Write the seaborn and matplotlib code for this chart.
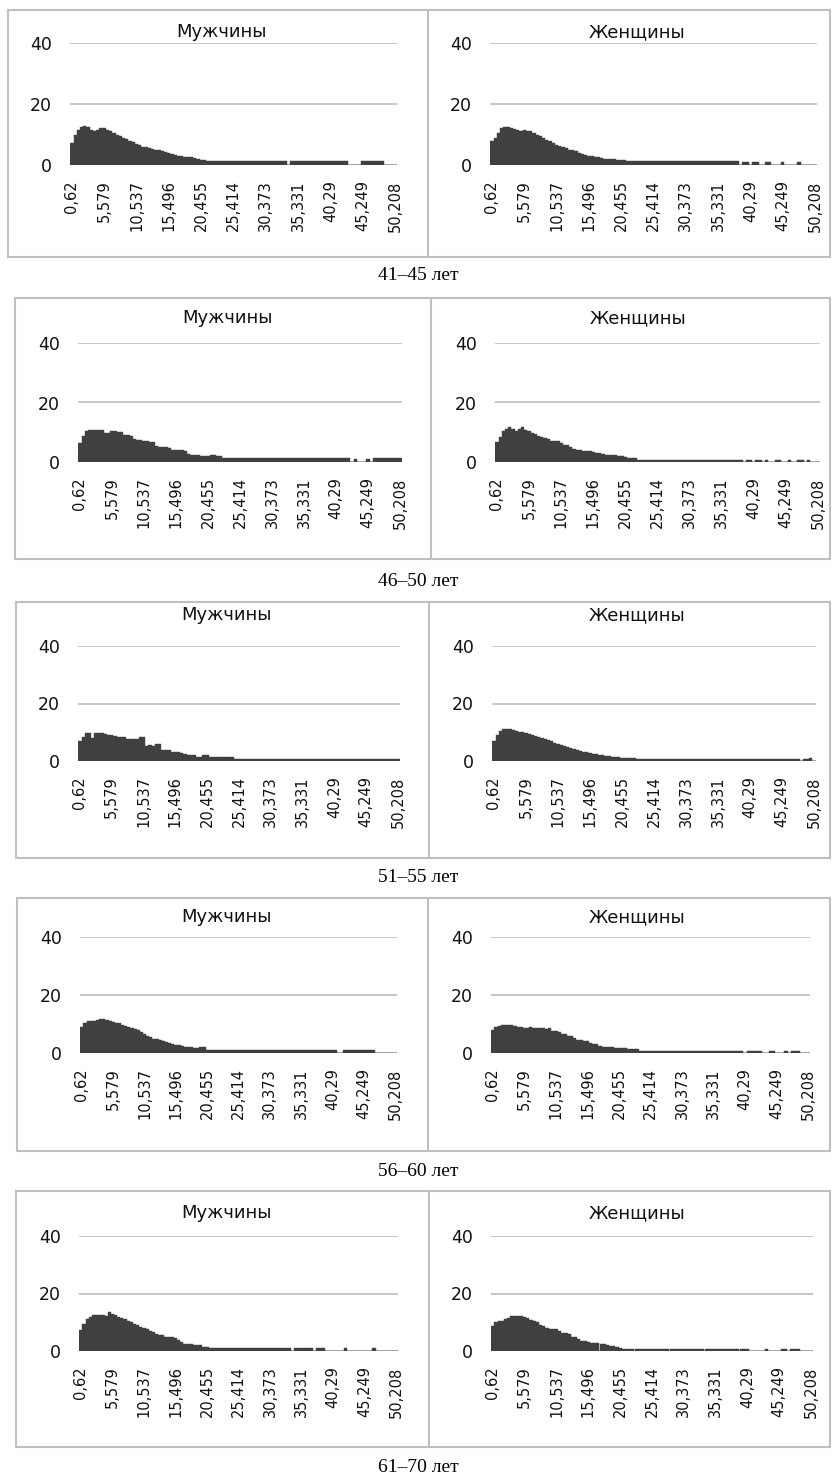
import numpy as np
import matplotlib
matplotlib.use("Agg")
import matplotlib.pyplot as plt
import seaborn as sns
from matplotlib.patches import Rectangle
from matplotlib.lines import Line2D

# ---- data (bar heights per bin, 101 bins) ----
tick_labels = ["0,62", "5,579", "10,537", "15,496", "20,455", "25,414",
               "30,373", "35,331", "40,29", "45,249", "50,208"]
age_groups = ["41–45 лет", "46–50 лет", "51–55 лет", "56–60 лет", "61–70 лет"]
sexes = ["Мужчины", "Женщины"]

m_41_45 = [7.2, 10.0, 11.5, 12.5, 12.8, 12.5, 11.5, 11.3, 11.5, 12.0,
           12.0, 11.5, 11.0, 10.5, 10.0, 9.5, 9.0, 8.5, 8.0, 7.5,
           6.8, 6.4, 6.0, 5.8, 5.5, 5.3, 5.0, 4.8, 4.5, 4.2,
           3.8, 3.5, 3.3, 3.0, 2.8, 2.5, 2.5, 2.5, 2.3, 2.0,
           1.8, 1.8, 1.4, 1.4, 1.4, 1.4, 1.4, 1.4, 1.4, 1.4,
           1.4, 1.4, 1.4, 1.4, 1.4, 1.4, 1.4, 1.4, 1.4, 1.4,
           1.4, 1.4, 1.4, 1.4, 1.4, 1.4, 1.4, 0.0, 1.4, 1.4,
           1.4, 1.4, 1.4, 1.4, 1.4, 1.4, 1.4, 1.4, 1.4, 1.4,
           1.4, 1.4, 1.4, 1.4, 1.4, 1.4, 0.0, 0.0, 0.0, 0.0,
           1.4, 1.4, 1.4, 1.4, 1.4, 1.4, 1.4, 0.0, 0.0, 0.0,
           0.0]
w_41_45 = [8.0, 9.0, 10.5, 12.0, 12.6, 12.3, 12.0, 11.7, 11.4, 11.2,
           11.5, 11.3, 11.0, 10.5, 10.0, 9.5, 8.8, 8.2, 7.8, 7.3,
           6.5, 6.3, 6.0, 5.5, 5.0, 4.8, 4.5, 4.0, 3.6, 3.3,
           3.1, 2.8, 2.5, 2.5, 2.2, 2.0, 2.0, 2.0, 2.0, 1.8,
           1.5, 1.5, 1.2, 1.2, 1.2, 1.2, 1.2, 1.2, 1.2, 1.2,
           1.2, 1.2, 1.2, 1.2, 1.2, 1.2, 1.2, 1.2, 1.2, 1.2,
           1.2, 1.2, 1.2, 1.2, 1.2, 1.2, 1.2, 1.2, 1.2, 1.2,
           1.2, 1.2, 1.2, 1.2, 1.2, 1.2, 1.2, 0.0, 1.0, 1.0,
           0.0, 1.0, 1.0, 0.0, 0.0, 1.0, 1.0, 0.0, 0.0, 0.0,
           1.0, 0.0, 0.0, 0.0, 0.0, 1.0, 0.0, 0.0, 0.0, 0.0,
           0.0]
m_46_50 = [6.4, 8.8, 10.3, 10.8, 10.8, 10.8, 10.7, 10.6, 9.8, 9.6,
           10.3, 10.3, 10.2, 10.0, 9.2, 9.0, 8.8, 7.6, 7.5, 7.4,
           6.9, 6.9, 6.8, 6.6, 5.3, 5.2, 5.1, 5.0, 4.6, 4.1,
           4.1, 4.0, 3.9, 3.8, 2.6, 2.5, 2.5, 2.4, 1.9, 1.9,
           1.9, 2.2, 2.2, 2.1, 2.1, 1.3, 1.3, 1.3, 1.3, 1.3,
           1.3, 1.3, 1.3, 1.3, 1.3, 1.3, 1.3, 1.3, 1.3, 1.3,
           1.3, 1.3, 1.3, 1.3, 1.3, 1.3, 1.3, 1.3, 1.3, 1.3,
           1.3, 1.3, 1.3, 1.3, 1.3, 1.3, 1.3, 1.3, 1.3, 1.3,
           1.3, 1.3, 1.3, 1.3, 1.3, 0.0, 1.0, 0.0, 0.0, 0.0,
           1.0, 0.0, 1.3, 1.3, 1.3, 1.3, 1.3, 1.3, 1.3, 1.3,
           1.3]
w_46_50 = [6.7, 8.5, 10.3, 11.0, 11.6, 11.2, 10.5, 11.0, 11.6, 10.8,
           10.3, 9.8, 9.4, 8.6, 8.3, 8.0, 7.6, 7.2, 7.2, 7.0,
           6.5, 5.8, 5.8, 4.9, 4.5, 4.1, 4.0, 3.6, 3.6, 3.6,
           3.2, 2.9, 2.9, 2.7, 2.5, 2.5, 2.5, 2.2, 2.0, 1.9,
           1.6, 1.5, 1.3, 1.3, 0.8, 0.8, 0.8, 0.8, 0.8, 0.8,
           0.8, 0.8, 0.8, 0.8, 0.8, 0.8, 0.8, 0.8, 0.8, 0.8,
           0.8, 0.8, 0.8, 0.8, 0.8, 0.8, 0.8, 0.8, 0.8, 0.8,
           0.8, 0.8, 0.8, 0.8, 0.8, 0.8, 0.8, 0.0, 0.8, 0.8,
           0.0, 0.8, 0.8, 0.0, 0.8, 0.0, 0.0, 0.8, 0.8, 0.0,
           0.0, 0.8, 0.0, 0.0, 0.8, 0.8, 0.0, 0.8, 0.0, 0.0,
           0.0]
m_51_55 = [6.8, 8.5, 9.7, 9.7, 8.0, 9.7, 9.7, 9.6, 9.5, 9.1,
           9.1, 8.6, 8.5, 8.5, 8.4, 7.8, 7.7, 7.6, 7.5, 8.5,
           8.3, 5.3, 5.4, 5.2, 6.0, 6.0, 3.9, 3.9, 3.8, 3.0,
           3.0, 3.0, 2.9, 2.6, 2.1, 2.1, 2.0, 1.5, 1.5, 2.1,
           2.1, 1.5, 1.5, 1.5, 1.5, 1.5, 1.5, 1.5, 1.5, 0.6,
           0.6, 0.6, 0.6, 0.6, 0.6, 0.6, 0.6, 0.6, 0.6, 0.6,
           0.6, 0.6, 0.6, 0.6, 0.6, 0.6, 0.6, 0.6, 0.6, 0.6,
           0.6, 0.6, 0.6, 0.6, 0.6, 0.6, 0.6, 0.6, 0.6, 0.6,
           0.6, 0.6, 0.6, 0.6, 0.6, 0.6, 0.6, 0.6, 0.6, 0.6,
           0.6, 0.6, 0.6, 0.6, 0.6, 0.6, 0.6, 0.6, 0.6, 0.6,
           0.6]
w_51_55 = [6.8, 9.0, 10.3, 11.0, 11.2, 11.0, 10.8, 10.5, 10.2, 10.0,
           9.7, 9.4, 9.0, 8.7, 8.3, 8.0, 7.6, 7.2, 6.8, 6.4,
           6.0, 5.6, 5.2, 4.8, 4.5, 4.2, 3.9, 3.6, 3.3, 3.0,
           2.8, 2.6, 2.4, 2.2, 2.0, 1.8, 1.7, 1.5, 1.5, 1.3,
           1.2, 1.2, 1.0, 1.0, 1.0, 0.6, 0.6, 0.6, 0.6, 0.6,
           0.6, 0.6, 0.6, 0.6, 0.6, 0.6, 0.6, 0.6, 0.6, 0.6,
           0.6, 0.6, 0.6, 0.6, 0.6, 0.6, 0.6, 0.6, 0.6, 0.6,
           0.6, 0.6, 0.6, 0.6, 0.6, 0.6, 0.6, 0.6, 0.6, 0.6,
           0.6, 0.6, 0.6, 0.6, 0.6, 0.6, 0.6, 0.6, 0.6, 0.6,
           0.6, 0.6, 0.6, 0.6, 0.6, 0.6, 0.0, 0.6, 0.6, 1.0,
           0.0]
m_56_60 = [8.8, 10.5, 10.9, 10.9, 11.0, 11.5, 11.8, 11.8, 11.5, 11.0,
           10.6, 10.5, 10.2, 9.5, 9.4, 9.0, 8.5, 8.2, 8.0, 7.2,
           6.5, 6.0, 5.5, 5.0, 4.7, 4.5, 4.0, 3.8, 3.5, 3.0,
           2.8, 2.7, 2.5, 2.0, 2.0, 2.0, 1.8, 1.8, 2.1, 2.1,
           1.2, 1.2, 1.2, 1.2, 1.2, 1.2, 1.2, 1.2, 1.2, 1.2,
           1.2, 1.2, 1.2, 1.2, 1.2, 1.2, 1.2, 1.2, 1.2, 1.2,
           1.2, 1.2, 1.2, 1.2, 1.2, 1.2, 1.2, 1.2, 1.2, 1.2,
           1.2, 1.2, 1.2, 1.2, 1.2, 1.2, 1.2, 1.2, 1.2, 1.2,
           1.2, 1.2, 0.0, 0.0, 1.2, 1.2, 1.2, 1.2, 1.2, 1.2,
           1.2, 1.2, 1.2, 1.2, 0.0, 0.0, 0.0, 0.0, 0.0, 0.0,
           0.0]
w_56_60 = [8.0, 9.0, 9.3, 9.6, 9.8, 9.8, 9.6, 9.3, 9.0, 8.8,
           8.6, 8.5, 9.0, 8.7, 8.5, 8.5, 8.5, 8.4, 8.6, 7.6,
           7.6, 7.2, 6.5, 6.4, 6.0, 5.8, 5.2, 4.5, 4.5, 4.3,
           4.2, 3.5, 3.1, 3.0, 2.5, 2.2, 2.2, 2.1, 2.0, 1.8,
           1.8, 1.8, 1.6, 1.5, 1.5, 1.5, 1.5, 0.7, 0.7, 0.7,
           0.7, 0.7, 0.7, 0.7, 0.7, 0.7, 0.7, 0.7, 0.7, 0.7,
           0.7, 0.7, 0.7, 0.7, 0.7, 0.7, 0.7, 0.7, 0.7, 0.7,
           0.7, 0.7, 0.7, 0.7, 0.7, 0.7, 0.7, 0.7, 0.7, 0.7,
           0.0, 0.7, 0.7, 0.7, 0.7, 0.7, 0.0, 0.0, 0.7, 0.7,
           0.0, 0.0, 0.0, 0.7, 0.0, 0.7, 0.7, 0.7, 0.0, 0.0,
           0.0]
m_61_70 = [7.2, 9.5, 11.0, 11.9, 12.4, 12.4, 12.4, 12.4, 12.2, 13.6,
           13.0, 12.5, 12.0, 11.5, 11.0, 10.5, 10.0, 9.5, 9.0, 8.5,
           8.0, 7.5, 7.0, 6.5, 6.0, 5.5, 5.5, 5.0, 4.8, 4.8,
           4.5, 4.0, 3.0, 2.5, 2.5, 2.5, 2.2, 2.2, 2.2, 1.5,
           1.5, 1.0, 1.0, 1.0, 1.0, 1.0, 1.0, 1.0, 1.0, 1.0,
           1.0, 1.0, 1.0, 1.0, 1.0, 1.0, 1.0, 1.0, 1.0, 1.0,
           1.0, 1.0, 1.0, 1.0, 1.0, 1.0, 1.0, 0.0, 1.0, 1.0,
           1.0, 1.0, 1.0, 1.0, 0.0, 1.0, 1.0, 1.0, 0.0, 0.0,
           0.0, 0.0, 0.0, 0.0, 1.0, 0.0, 0.0, 0.0, 0.0, 0.0,
           0.0, 0.0, 0.0, 1.0, 0.0, 0.0, 0.0, 0.0, 0.0, 0.0,
           0.0]
w_61_70 = [8.75, 10.0, 10.4, 10.6, 11.0, 11.5, 12.1, 12.1, 12.1, 12.1,
           12.0, 11.5, 10.9, 10.6, 10.0, 9.0, 8.8, 8.0, 7.5, 7.5,
           7.5, 6.9, 6.3, 6.2, 6.0, 5.0, 4.8, 4.2, 3.6, 3.4,
           3.3, 2.8, 2.7, 2.7, 2.6, 2.5, 2.0, 1.9, 1.9, 1.25,
           1.2, 0.6, 0.6, 0.6, 0.6, 0.6, 0.6, 0.6, 0.6, 0.6,
           0.6, 0.6, 0.6, 0.6, 0.6, 0.6, 0.6, 0.6, 0.6, 0.6,
           0.6, 0.6, 0.6, 0.6, 0.6, 0.6, 0.6, 0.6, 0.6, 0.6,
           0.6, 0.6, 0.6, 0.6, 0.6, 0.6, 0.6, 0.6, 0.6, 0.6,
           0.6, 0.0, 0.0, 0.0, 0.0, 0.0, 0.6, 0.0, 0.0, 0.0,
           0.0, 0.6, 0.6, 0.0, 0.6, 0.6, 0.6, 0.0, 0.0, 0.0,
           0.0]

series = [(m_41_45, w_41_45), (m_46_50, w_46_50), (m_51_55, w_51_55),
          (m_56_60, w_56_60), (m_61_70, w_61_70)]
bins = list(range(101))

# ---- layout in pixels (figure 837 x 1481) ----
W, H = 837, 1481
# box (x0, y0, x1, y1), separator x, left/right axes x, y of 40, y of 0, title y, caption y
layout = [
    dict(box=(8, 10, 830, 257), sep=428, lx=(70, 397), rx=(490, 817), top=43, zero=165, ty=32, cy=275),
    dict(box=(15, 298, 830, 559), sep=431, lx=(78, 402), rx=(495, 820), top=343, zero=462, ty=318, cy=581),
    dict(box=(16, 602, 830, 858), sep=429, lx=(78, 400), rx=(492, 816), top=646, zero=761, ty=615, cy=877),
    dict(box=(17, 898, 830, 1151), sep=428, lx=(80, 397), rx=(491, 810), top=937, zero=1053, ty=917, cy=1172),
    dict(box=(16, 1191, 830, 1447), sep=429, lx=(79, 398), rx=(491, 813), top=1236, zero=1351, ty=1213, cy=1468),
]

bar_color = "#404040"
grid_color = "#bfbfbf"
text_color = "#111111"

sns.set_theme(style="white")
plt.rcParams['font.family'] = ['DejaVu Sans']

fig = plt.figure(figsize=(W / 100, H / 100), dpi=100)


def fx(x):
    return x / W


def fy(y):
    return 1 - y / H


for (vals_m, vals_w), lay, age in zip(series, layout, age_groups):
    x0, y0, x1, y1 = lay["box"]
    fig.add_artist(Rectangle((fx(x0), fy(y1)), fx(x1 - x0), (y1 - y0) / H,
                             transform=fig.transFigure, fill=False,
                             edgecolor=grid_color, lw=1.5))
    fig.add_artist(Line2D([fx(lay["sep"])] * 2, [fy(y1), fy(y0)],
                          transform=fig.transFigure, color=grid_color, lw=1.5))

    panels = [(vals_m, lay["lx"], (x0 + lay["sep"]) / 2 + 4, sexes[0]),
              (vals_w, lay["rx"], (lay["sep"] + x1) / 2 + 8, sexes[1])]
    for vals, (ax0, ax1), tx, title in panels:
        ax = fig.add_axes([fx(ax0), fy(lay["zero"]), fx(ax1 - ax0),
                           (lay["zero"] - lay["top"]) / H])
        sns.barplot(x=bins, y=vals, ax=ax, color=bar_color, saturation=1,
                    width=1.0, edgecolor=bar_color, linewidth=0.3)
        ax.set_xlim(-0.6, 100.6)
        ax.set_ylim(0, 40)
        ax.set_yticks([0, 20, 40])
        ax.set_xticks(list(range(0, 101, 10)))
        ax.set_xticklabels(tick_labels, rotation=90)
        ax.set_xlabel("")
        ax.set_ylabel("")
        ax.set_axisbelow(True)
        ax.yaxis.grid(True, color=grid_color, lw=1.2)
        ax.axhline(0, color=grid_color, lw=1.2, zorder=0.5)
        for s in ax.spines.values():
            s.set_visible(False)
        ax.tick_params(axis="x", length=0, pad=11, labelsize=10.5, colors=text_color)
        ax.tick_params(axis="y", length=0, pad=13, labelsize=12.5, colors=text_color)
        fig.text(fx(tx), fy(lay["ty"]), title, ha="center", va="center",
                 fontsize=13, color=text_color)

    fig.text(0.5, fy(lay["cy"]), age, ha="center", va="center",
             fontsize=14, family="Liberation Serif", color="black")

fig.savefig("out.png", dpi=100)
